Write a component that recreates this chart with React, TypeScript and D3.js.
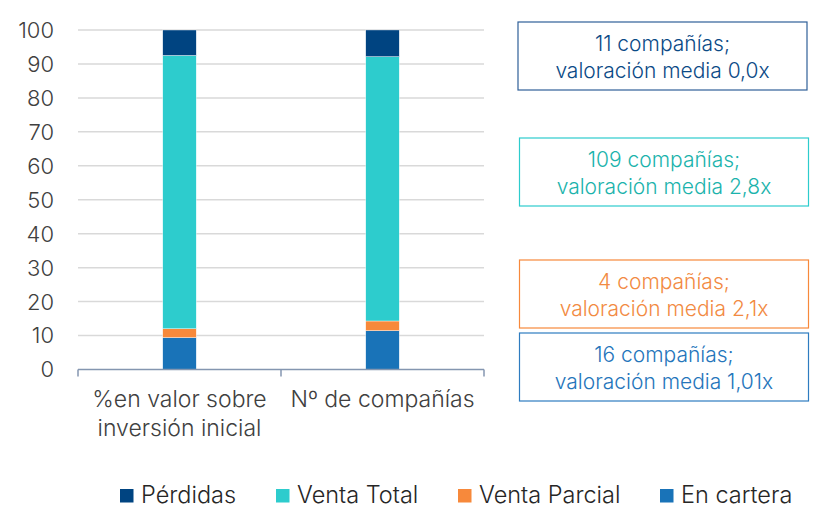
import React from 'react';
import * as d3 from 'd3';

// categories and stacked series (percent)
const categories = ['%en valor sobre|inversión inicial', 'Nº de compañías'];
const seriesNames = ['En cartera', 'Venta Parcial', 'Venta Total', 'Pérdidas'];
const enCartera = [9.4, 11.43];
const ventaParcial = [2.6, 2.86];
const ventaTotal = [80.5, 77.86];
const perdidas = [7.5, 7.86];
const seriesColors = ['#1973B8', '#F7893B', '#2DCCCD', '#004481'];
const yTicks = [0, 10, 20, 30, 40, 50, 60, 70, 80, 90, 100];

// annotation boxes (top to bottom)
const boxLines = [
  ['11 compañías;', 'valoración media 0,0x'],
  ['109 compañías;', 'valoración media 2,8x'],
  ['4 compañías;', 'valoración media 2,1x'],
  ['16 compañías;', 'valoración media 1,01x'],
];
const boxColors = ['#2F5F98', '#2DCCCD', '#F7893B', '#2E7CC0'];
const boxTextColors = ['#0B4A86', '#1BB3AC', '#F28A42', '#2575BB'];
const boxTops = [22, 138, 260, 333];

const legendOrder = ['Pérdidas', 'Venta Total', 'Venta Parcial', 'En cartera'];
const legendX = [120, 276, 458, 660];

const FONT = 'Inter, Lato, "DejaVu Sans", sans-serif';

const App: React.FC = () => {
  const width = 820;
  const height = 516;
  const plot = { left: 78, right: 484, top: 30, bottom: 369.5 };

  const x = d3.scaleBand<string>().domain(categories).range([plot.left, plot.right]).padding(0);
  const y = d3.scaleLinear().domain([0, 100]).range([plot.bottom, plot.top]);
  const barW = x.bandwidth() * 0.165;

  const rows = categories.map((c, i) => ({
    cat: c,
    'En cartera': enCartera[i],
    'Venta Parcial': ventaParcial[i],
    'Venta Total': ventaTotal[i],
    'Pérdidas': perdidas[i],
  }));
  const stacked = d3.stack<any>().keys(seriesNames)(rows);
  const color = d3.scaleOrdinal<string, string>().domain(seriesNames).range(seriesColors);

  const axisColor = '#8496B0';

  return (
    <svg width={width} height={height} style={{ position: 'absolute', left: 0, top: 0 }}>
      <rect width={width} height={height} fill="#fff" />
      {/* gridlines */}
      {yTicks.filter(t => t > 0).map(t => (
        <line key={t} x1={plot.left} x2={plot.right} y1={y(t)} y2={y(t)} stroke="#D9D9D9" strokeWidth={1.5} />
      ))}
      {/* y labels */}
      {yTicks.map(t => (
        <text key={t} x={54} y={y(t)} dy="0.36em" textAnchor="end" fontFamily={FONT} fontWeight={300}
          fontSize={22} fill="#404040">{t}</text>
      ))}
      {/* bars */}
      {stacked.map(s => (
        <g key={s.key} fill={color(s.key)}>
          {s.map((d, i) => (
            <rect key={i} x={(x(categories[i]) as number) + x.bandwidth() / 2 - barW / 2} width={barW}
              y={y(d[1])} height={y(d[0]) - y(d[1])} stroke="#fff" strokeWidth={0.4} />
          ))}
        </g>
      ))}
      {/* x axis */}
      <line x1={plot.left} x2={plot.right} y1={plot.bottom} y2={plot.bottom} stroke={axisColor} strokeWidth={1.5} />
      {[...categories.map(c => x(c) as number), plot.right].map((t, i) => (
        <line key={i} x1={t} x2={t} y1={plot.bottom} y2={plot.bottom + 7} stroke={axisColor} strokeWidth={1.5} />
      ))}
      {categories.map(c => (
        <text key={c} x={(x(c) as number) + x.bandwidth() / 2} y={407} textAnchor="middle" fontFamily={FONT}
          fontWeight={300} fontSize={23} fill="#404040">
          {c.split('|').map((l, j) => (
            <tspan key={j} x={(x(c) as number) + x.bandwidth() / 2} dy={j === 0 ? 0 : 29}>{l}</tspan>
          ))}
        </text>
      ))}
      {/* annotation boxes */}
      {boxLines.map((lines, i) => {
        const bx = i === 0 ? 518 : 519.5;
        const bw = 289;
        const bh = 68;
        const top = boxTops[i];
        return (
          <g key={i}>
            <rect x={bx} y={top} width={bw} height={bh} fill="#fff" stroke={boxColors[i]} strokeWidth={1.2} />
            {lines.map((l, j) => (
              <text key={j} x={bx + bw / 2} y={top + 28.5 + j * 27} textAnchor="middle" fontFamily={FONT}
                fontWeight={300} fontSize={21} fill={boxTextColors[i]}>{l}</text>
            ))}
          </g>
        );
      })}
      {/* legend */}
      {legendOrder.map((name, i) => (
        <g key={name} transform={`translate(${legendX[i]},489)`}>
          <rect width={13.5} height={13.5} fill={color(name)} />
          <text x={21} y={13.5} fontFamily={FONT} fontWeight={300} fontSize={23.5} fill="#262626">{name}</text>
        </g>
      ))}
    </svg>
  );
};

export default App;
